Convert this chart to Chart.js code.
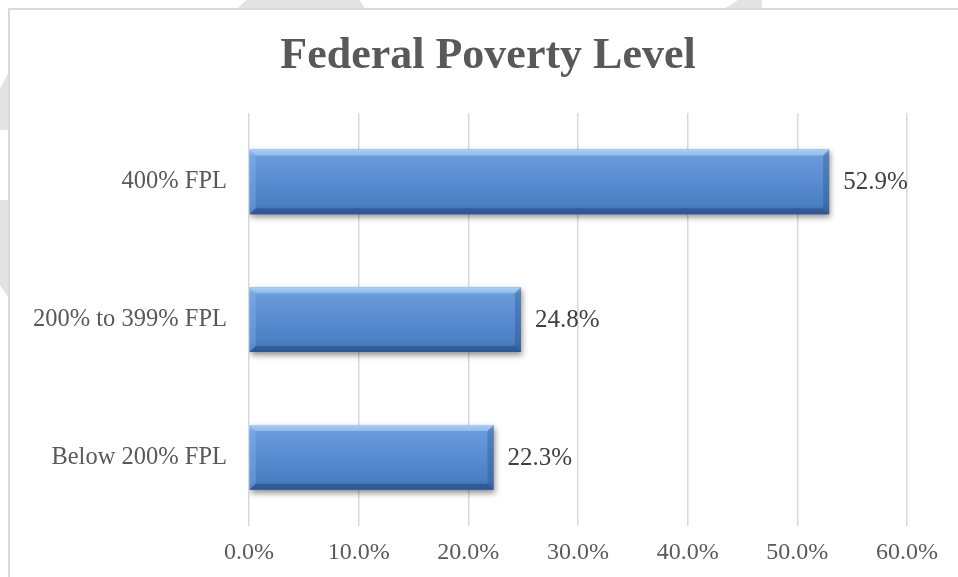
<!DOCTYPE html>
<html>
<head>
<meta charset="utf-8">
<script src="https://cdn.jsdelivr.net/npm/chart.js@4"></script>
<style>
  html, body { margin: 0; padding: 0; background: #fff; overflow: hidden; }
  body { width: 958px; height: 577px; position: relative; }
  .wm { position: absolute; background: #e3e3e3; }
  #frame {
    position: absolute; left: 8px; top: 8px; width: 960px; height: 590px; overflow: hidden;
    border-left: 2px solid #d9d9d9; border-top: 2px solid #d9d9d9; background: #fff;
  }
  #wrap { position: absolute; left: 0; top: 0; width: 948px; height: 575px; }
</style>
</head>
<body>
<!-- faint watermark bits peeking out around the chart frame -->
<div class="wm" style="left:0;top:70px;width:10px;height:60px;clip-path:polygon(0 30%,100% 0,100% 100%,0 100%)"></div>
<div class="wm" style="left:0;top:200px;width:10px;height:100px;clip-path:polygon(0 0,100% 0,100% 100%,0 85%)"></div>
<div class="wm" style="left:236px;top:0;width:130px;height:10px;clip-path:polygon(0 100%,8% 0,95% 0,100% 100%)"></div>
<div class="wm" style="left:722px;top:0;width:40px;height:10px;clip-path:polygon(0 100%,40% 0,100% 0,100% 100%)"></div>
<div id="frame"><div id="wrap"><canvas id="chart"></canvas></div></div>
<script>
const categories = ["400% FPL", "200% to 399% FPL", "Below 200% FPL"];
const shares = [52.9, 24.8, 22.3];
const tickMax = 60;
const tickStep = 10;
const chartTitle = "Federal Poverty Level";

const FONT = "'Liberation Serif', 'Times New Roman', serif";
const TEXT = "#595959";

// title drawn by hand so it can sit centred on the whole frame
const titlePlugin = {
  id: "frameTitle",
  afterDraw(chart) {
    const ctx = chart.ctx;
    ctx.save();
    ctx.fillStyle = TEXT;
    ctx.font = "bold 44px " + FONT;
    ctx.textAlign = "center";
    ctx.textBaseline = "middle";
    ctx.fillText(chartTitle, chart.width / 2 + 4, 47);
    ctx.restore();
  }
};

// bevelled blue bars like the office 3D preset
const bevelBars = {
  id: "bevelBars",
  beforeDatasetsDraw(chart) {
    const ctx = chart.ctx;
    ctx.save();
    ctx.shadowColor = "rgba(0,0,0,0.45)";
    ctx.shadowBlur = 6;
    ctx.shadowOffsetX = 1;
    ctx.shadowOffsetY = 3;
  },
  afterDatasetsDraw(chart) {
    const ctx = chart.ctx;
    ctx.restore();
    const meta = chart.getDatasetMeta(0);
    meta.data.forEach((bar, i) => {
      const { x, y, base, height } = bar.getProps(["x", "y", "base", "height"], true);
      const l = base, r = x, t = y - height / 2, b = y + height / 2;
      const g = ctx.createLinearGradient(0, t, 0, b);
      g.addColorStop(0, "#9cc5f0");
      g.addColorStop(0.1, "#6a9bdb");
      g.addColorStop(0.45, "#5a8dd2");
      g.addColorStop(0.85, "#4b7fc3");
      g.addColorStop(1, "#3a68a6");
      ctx.save();
      ctx.fillStyle = g;
      ctx.fillRect(l, t, r - l, b - t);
      const bv = 6;
      // top edge
      ctx.fillStyle = "rgba(190,220,250,0.45)";
      ctx.beginPath();
      ctx.moveTo(l, t); ctx.lineTo(r, t); ctx.lineTo(r - bv, t + bv); ctx.lineTo(l + bv, t + bv);
      ctx.closePath(); ctx.fill();
      // left edge
      ctx.fillStyle = "rgba(150,195,240,0.3)";
      ctx.beginPath();
      ctx.moveTo(l, t); ctx.lineTo(l + bv, t + bv); ctx.lineTo(l + bv, b - bv); ctx.lineTo(l, b);
      ctx.closePath(); ctx.fill();
      // right edge
      ctx.fillStyle = "rgba(30,70,130,0.3)";
      ctx.beginPath();
      ctx.moveTo(r, t); ctx.lineTo(r, b); ctx.lineTo(r - bv, b - bv); ctx.lineTo(r - bv, t + bv);
      ctx.closePath(); ctx.fill();
      // bottom edge
      ctx.fillStyle = "rgba(25,60,115,0.4)";
      ctx.beginPath();
      ctx.moveTo(l, b); ctx.lineTo(r, b); ctx.lineTo(r - bv, b - bv); ctx.lineTo(l + bv, b - bv);
      ctx.closePath(); ctx.fill();
      ctx.restore();

      // value label
      ctx.save();
      ctx.fillStyle = "#404040";
      ctx.font = "25px " + FONT;
      ctx.textAlign = "left";
      ctx.textBaseline = "middle";
      ctx.fillText(shares[i].toFixed(1) + "%", r + 14, y + 1);
      ctx.restore();
    });
  }
};

new Chart(document.getElementById("chart"), {
  type: "bar",
  data: {
    labels: categories,
    datasets: [{
      data: shares,
      backgroundColor: "#5a8dd2",
      borderWidth: 0,
      barPercentage: 0.47,
      categoryPercentage: 1.0
    }]
  },
  options: {
    indexAxis: "y",
    responsive: true,
    maintainAspectRatio: false,
    animation: false,
    layout: { padding: { top: 103, right: 51, bottom: 6, left: 1 } },
    plugins: {
      legend: { display: false },
      tooltip: { enabled: false },
      title: { display: false }
    },
    scales: {
      x: {
        min: 0,
        max: tickMax,
        ticks: {
          stepSize: tickStep,
          color: TEXT,
          font: { family: FONT, size: 24 },
          padding: 12,
          callback: (v) => v.toFixed(1) + "%"
        },
        grid: { color: "#d9d9d9", lineWidth: 1.5, drawTicks: false },
        border: { display: false }
      },
      y: {
        ticks: {
          color: TEXT,
          font: { family: FONT, size: 24.5 },
          padding: 22
        },
        grid: { display: false, drawTicks: false },
        border: { display: false }
      }
    }
  },
  plugins: [bevelBars, titlePlugin]
});
</script>
</body>
</html>
